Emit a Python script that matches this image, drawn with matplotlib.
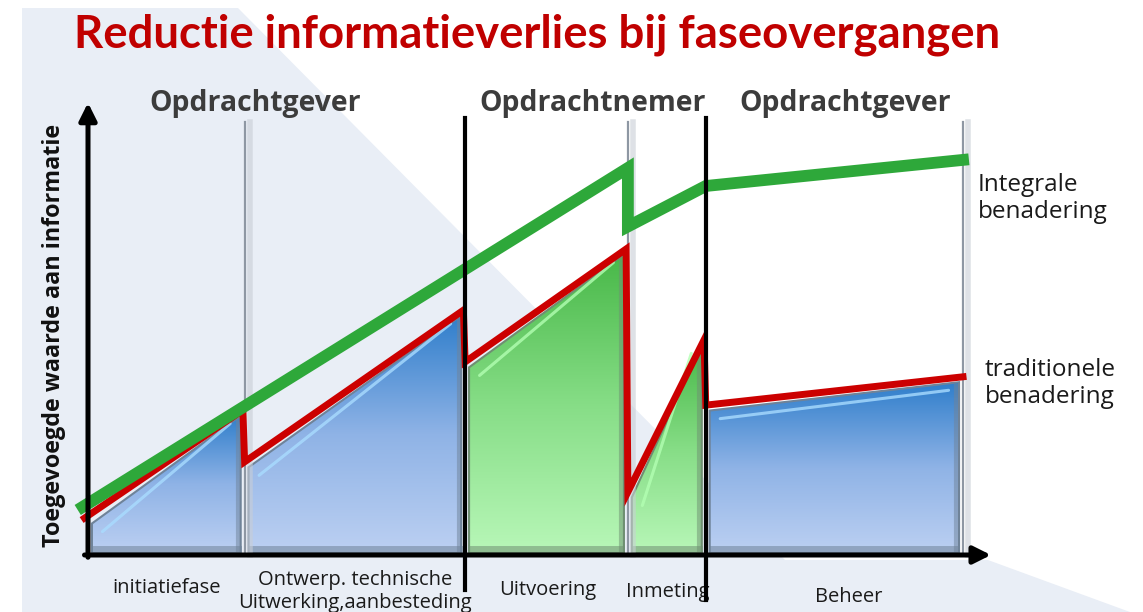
import numpy as np
import matplotlib
matplotlib.use("Agg")
import matplotlib.pyplot as plt
from matplotlib.patches import Polygon
from matplotlib.colors import LinearSegmentedColormap

# phase boundaries (x) and phase names
bounds = [0, 17.9, 43.1, 61.7, 70.6, 100]
phases = ["initiatiefase", "Ontwerp. technische\nUitwerking,aanbesteding",
          "Uitvoering", "Inmeting", "Beheer"]
fill_kind = ["blue", "blue", "green", "green", "blue"]

# traditional approach: value at start / end of each phase
trad_start = [8.2, 20.7, 42.9, 14.0, 33.3]
trad_end = [32.2, 54.4, 68.0, 47.8, 39.6]

# integral approach
integ_x = [-0.6, 61.7, 61.7, 70.6, 100]
integ_y = [10.7, 86.0, 73.0, 82.0, 87.8]

owners = ["Opdrachtgever", "Opdrachtnemer", "Opdrachtgever"]
owner_x = [19.1, 57.7, 86.5]

title = "Reductie informatieverlies bij faseovergangen"
ylabel = "Toegevoegde waarde aan informatie"

plt.rcParams['font.family'] = ['Open Sans', 'DejaVu Sans']

W, H = 1143, 612
fig = plt.figure(figsize=(W / 100, H / 100), dpi=100)
ax = fig.add_axes([0, 0, 1, 1])
ax.patch.set_visible(False)
sx, sy = 8.75, 4.5  # pixels per data unit
ax.set_xlim(-88 / sx, (W - 88) / sx)
ax.set_ylim(-(H - 555) / sy, 555 / sy)
ax.axis('off')

# slide background shape (pixel coords -> figure fraction)
bg = np.array([(22, 8), (238, 8), (785, 560), (988, 560), (1130, 612), (22, 612)], float)
bg[:, 0] /= W
bg[:, 1] = 1 - bg[:, 1] / H
ax.add_patch(Polygon(bg, closed=True, transform=fig.transFigure,
                     facecolor='#e9eef6', edgecolor='none', zorder=0))

cmaps = {
    "blue": LinearSegmentedColormap.from_list("b", ["#bcd0f2", "#8fb3e6", "#2f7ecb"]),
    "green": LinearSegmentedColormap.from_list("g", ["#b8f7b8", "#86dd86", "#48b848"]),
}
edge = {"blue": "#6f8399", "green": "#6f8f72"}
hl = {"blue": "#a9dcff", "green": "#b2ffb2"}

grad = np.linspace(0, 1, 256).reshape(-1, 1)
for i in range(5):
    x0, x1 = bounds[i] + 0.45, bounds[i + 1] - 0.45
    t0, t1 = trad_start[i] - 1.2, trad_end[i] - 1.2
    verts = [(x0, 0.4), (x0, t0), (x1, t1), (x1, 0.4)]
    poly = Polygon(verts, closed=True, facecolor='none', edgecolor=edge[fill_kind[i]],
                   lw=1.5, zorder=3)
    ax.add_patch(poly)
    im = ax.imshow(grad, cmap=cmaps[fill_kind[i]], origin='lower', aspect='auto',
                   extent=(x0, x1, 0.4, max(t0, t1)), zorder=2, interpolation='bilinear')
    im.set_clip_path(poly)
    # bevel highlight along the top
    ax.plot([x0 + 1.2, x1 - 1.2], [t0 - 1.8, t1 - 1.8], color=hl[fill_kind[i]],
            lw=2.2, alpha=0.8, zorder=3, solid_capstyle='round')
    # bottom and right bevel shade
    ax.plot([x0 + 0.3, x1 - 0.3], [1.4, 1.4], color=edge[fill_kind[i]], lw=5,
            alpha=0.55, zorder=3)
    ax.plot([x1 - 0.3, x1 - 0.3], [0.8, t1 - 0.8], color=edge[fill_kind[i]],
            lw=3, alpha=0.5, zorder=3)

# thin grey separators with soft shadow
for xb in [bounds[1], bounds[3], bounds[5]]:
    ax.plot([xb + 0.6, xb + 0.6], [0, 96.2], color='#c9ced6', lw=4, alpha=0.6, zorder=4)
    ax.plot([xb, xb], [0, 96.2], color='#8e97a3', lw=1.6, zorder=5)

# traditional line
tx, ty = [-0.4], [trad_start[0]]
for i in range(5):
    if i > 0:
        tx.append(bounds[i]); ty.append(trad_start[i])
    tx.append(bounds[i + 1] - (0.2 if i < 4 else 0)); ty.append(trad_end[i])
ax.plot(tx, ty, color='#cc0000', lw=5, zorder=6, solid_joinstyle='miter')

# integral line
ax.plot(integ_x, integ_y, color='#2ea83a', lw=8.5, zorder=7, solid_joinstyle='miter')

# thick black phase separators
ax.plot([bounds[2]] * 2, [-7.8, 97.1], color='black', lw=3, zorder=8)
ax.plot([bounds[4]] * 2, [-10.0, 97.1], color='black', lw=3, zorder=8)

# axes arrows
ap = dict(arrowstyle='-|>', lw=3.6, color='black', mutation_scale=26, shrinkA=0, shrinkB=0)
ax.annotate('', xy=(0, 100.5), xytext=(0, -0.5), arrowprops=ap, zorder=9)
ax.annotate('', xy=(103.2, 0), xytext=(-0.4, 0), arrowprops=ap, zorder=9)

# texts
fig.text(537 / W, 1 - 35 / H, title, color='#c00000', fontsize=32.8, fontweight='bold',
         ha='center', va='center', family=['Lato', 'DejaVu Sans'])
for name, xo in zip(owners, owner_x):
    ax.text(xo, 100.4, name, color='#3c3c3c', fontsize=20.4, fontweight='bold',
            ha='center', va='center')
ax.text(-3.9, 48.9, ylabel, rotation=90, fontsize=16.8, fontweight='bold',
        ha='center', va='center', color='#111111')

lab_pos = [(9.0, -7.3), (30.5, -8.1), (52.5, -7.8), (66.2, -8.2), (86.9, -9.3)]
for name, (lx, ly) in zip(phases, lab_pos):
    ax.text(lx, ly, name, fontsize=14.5, ha='center', va='center', color='#1a1a1a',
            linespacing=1.15)

ax.text(101.7, 79.2, "Integrale\nbenadering", fontsize=17.5, ha='left', va='center',
        color='#1a1a1a', linespacing=1.15)
ax.text(102.5, 38.1, "traditionele\nbenadering", fontsize=17.5, ha='left', va='center',
        color='#1a1a1a', linespacing=1.15)

fig.savefig("out.png", dpi=100)
